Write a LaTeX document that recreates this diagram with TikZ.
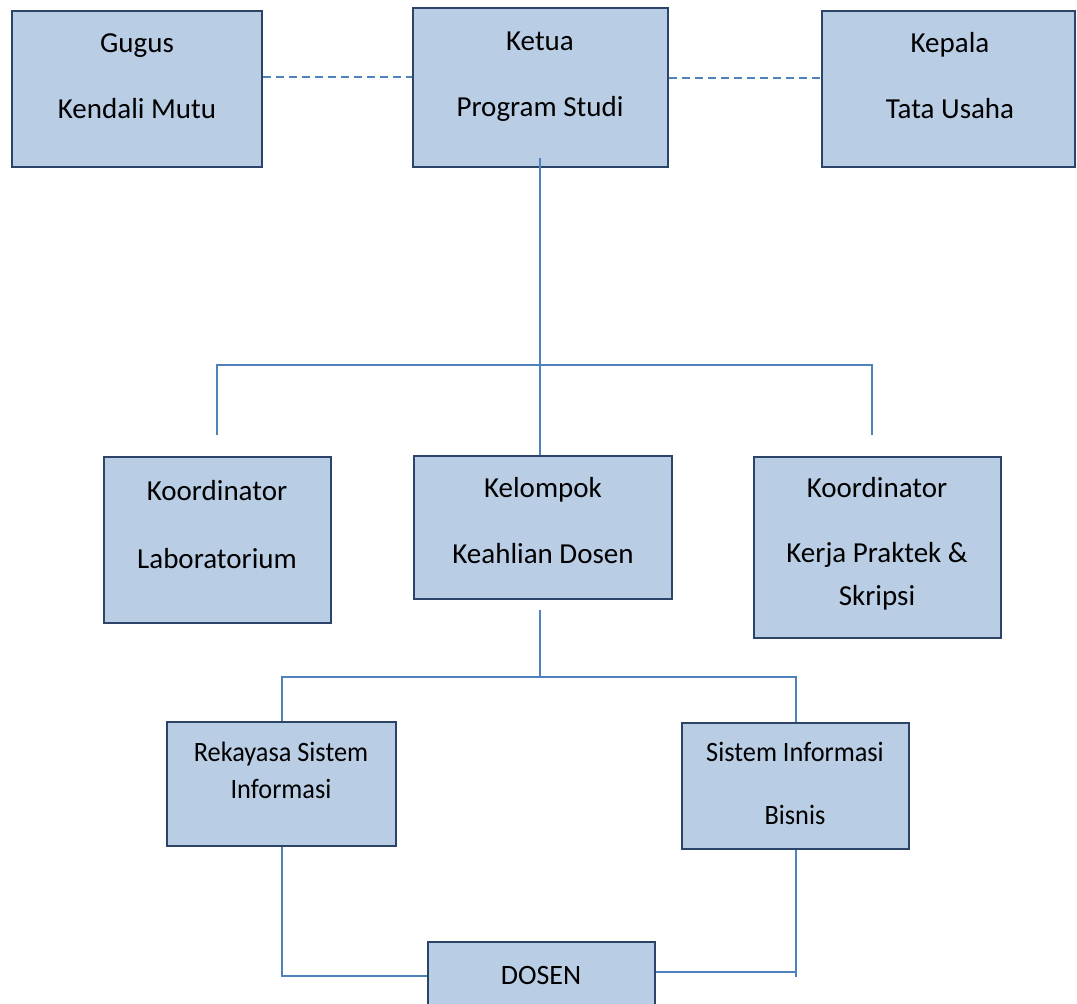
\documentclass[tikz,border=0pt]{standalone}
\usepackage{fontspec}
\setmainfont{Carlito}
\definecolor{boxfill}{HTML}{B9CDE5}
\definecolor{boxline}{HTML}{2B4468}
\definecolor{connline}{HTML}{4F81BD}
\begin{document}
\begin{tikzpicture}[x=1pt,y=-1pt,
  box/.style={draw=boxline, line width=2.8pt, fill=boxfill, inner sep=0pt},
  conn/.style={draw=connline, line width=2pt},
  dashln/.style={draw=connline, line width=2pt, dash pattern=on 8pt off 5pt},
  txt/.style={anchor=base, inner sep=0pt, font=\fontsize{29}{34}\selectfont},
  stxt/.style={anchor=base, inner sep=0pt, font=\fontsize{28}{33}\selectfont}]
\useasboundingbox (0,0) rectangle (1077,1004);
% boxes
\node[box, minimum width=250pt, minimum height=156pt] (gkm) at (137,89) {};
\node[box, minimum width=255pt, minimum height=159pt] (ketua) at (540.5,87.5) {};
\node[box, minimum width=253pt, minimum height=156pt] (kepala) at (948.5,89) {};
\node[box, minimum width=227pt, minimum height=166pt] (lab) at (217.5,540) {};
\node[box, minimum width=258pt, minimum height=143pt] (kel) at (543,527.5) {};
\node[box, minimum width=247pt, minimum height=181pt] (kp) at (877.5,547.5) {};
\node[box, minimum width=229pt, minimum height=124pt] (rsi) at (281.5,784) {};
\node[box, minimum width=227pt, minimum height=126pt] (sib) at (795.5,786) {};
\node[box, minimum width=227pt, minimum height=68pt] (dosen) at (541.5,976) {};
% texts
\node[txt] (t1) at (137,52) {Gugus};
\node[txt] (t2) at (137,118) {Kendali Mutu};
\node[txt] (t3) at (540,50) {Ketua};
\node[txt] (t4) at (540,116) {Program Studi};
\node[txt] (t5) at (950,52) {Kepala};
\node[txt] (t6) at (950,118) {Tata Usaha};
\node[txt] (t7) at (217,500) {Koordinator};
\node[txt] (t8) at (217,568) {Laboratorium};
\node[txt] (t9) at (543,497) {Kelompok};
\node[txt] (t10) at (543,563) {Keahlian Dosen};
\node[txt] (t11) at (877,497) {Koordinator};
\node[txt] (t12) at (877,562) {Kerja Praktek \&};
\node[txt] (t13) at (877,605) {Skripsi};
\node[stxt] (t14) at (281,761) {\scalebox{0.94}[1]{Rekayasa Sistem}};
\node[stxt] (t15) at (281,798) {\scalebox{0.94}[1]{Informasi}};
\node[stxt] (t16) at (795,761) {\scalebox{0.94}[1]{Sistem Informasi}};
\node[stxt] (t17) at (795,824) {\scalebox{0.94}[1]{Bisnis}};
\node[stxt] (t18) at (541,984) {DOSEN};
% dashed links
\draw[dashln] ([yshift=12pt]gkm.east) coordinate (d1) -- (d1 -| ketua.west);
\draw[dashln] ([yshift=9.5pt]ketua.east) coordinate (d2) -- (d2 -| kepala.west);
% main trunk
\coordinate (k1) at (540,158);
\coordinate (bl) at (217,365);
\coordinate (br) at (872,365);
\coordinate (dl) at (217,435);
\coordinate (dr) at (872,435);
\draw[conn] (k1) -- (k1 |- kel.north);
\draw[conn] (dl) -- (bl) -- (br) -- (dr);
% second level
\coordinate (m1) at (540,610);
\coordinate (bar2) at (540,677);
\draw[conn] (m1) -- (bar2);
\draw[conn] (rsi.north) -- (rsi.north |- bar2) -- (sib.north |- bar2) -- (sib.north);
% to DOSEN
\draw[conn] (rsi.south) -- (rsi.south |- dosen.west) -- (dosen.west);
\draw[conn] (sib.south) -- ([yshift=-1pt]sib.south |- dosen.east);
\draw[conn] ([yshift=4pt]dosen.east) coordinate (d3) -- (d3 -| sib.south);
\end{tikzpicture}
\end{document}
